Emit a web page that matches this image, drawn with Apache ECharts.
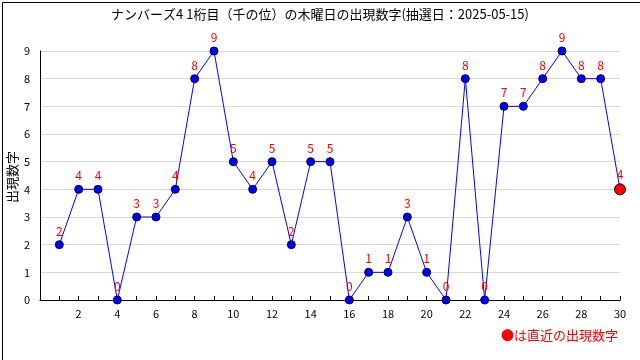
<!DOCTYPE html>
<html><head><meta charset="utf-8">
<script src="https://cdn.jsdelivr.net/npm/echarts@6/dist/echarts.min.js"></script>
<style>html,body{margin:0;padding:0;background:#fff}#c{width:640px;height:360px}</style>
</head><body><div id="c"></div>
<script>
const draws = [1,2,3,4,5,6,7,8,9,10,11,12,13,14,15,16,17,18,19,20,21,22,23,24,25,26,27,28,29,30];
const digits = [2,4,4,0,3,3,4,8,9,5,4,5,2,5,5,0,1,1,3,1,0,8,0,7,7,8,9,8,8,4];
const titleText = 'ナンバーズ4 1桁目（千の位）の木曜日の出現数字(抽選日：2025-05-15)';
const yName = '出現数字';
const legendText = '●は直近の出現数字';
const font = '"Noto Sans CJK JP", "DejaVu Sans", sans-serif';

const data = draws.map((x, i) => {
  const last = i === draws.length - 1;
  return {
    value: [x, digits[i]],
    symbolSize: last ? 11 : 8,
    itemStyle: last ? {color: '#ff0000', borderColor: '#000', borderWidth: 1} : {color: '#0000ff', borderColor: '#000033', borderWidth: 1}
  };
});

const chart = echarts.init(document.getElementById('c'));
chart.setOption({
  animation: false,
  backgroundColor: '#fff',
  title: {text: titleText, left: 'center', top: 3, textStyle: {fontFamily: font, fontSize: 13, fontWeight: 'normal', color: '#000'}},
  grid: {left: 40, right: 20, top: 51, bottom: 60, containLabel: false, outerBoundsMode: 'none'},
  xAxis: {
    type: 'value', min: 0, max: 30, interval: 1,
    axisLine: {lineStyle: {color: '#000', width: 1}},
    axisTick: {inside: true, length: 4, lineStyle: {color: '#000'}},
    axisLabel: {fontFamily: font, fontSize: 11, color: '#000', margin: 8,
      formatter: v => (v > 0 && v % 2 === 0) ? String(v) : ''},
    splitLine: {show: false}
  },
  yAxis: {
    type: 'value', min: 0, max: 9, interval: 1,
    axisLine: {show: true, lineStyle: {color: '#000', width: 1}},
    axisTick: {show: false},
    axisLabel: {fontFamily: font, fontSize: 11, color: '#000', margin: 10},
    splitLine: {lineStyle: {color: '#d8d8d8', width: 1}}
  },
  series: [{
    type: 'line', data: data, symbol: 'circle',
    lineStyle: {color: '#0000ff', width: 1},
    label: {show: true, position: 'top', distance: 3, color: '#ff0000', fontFamily: font, fontSize: 12,
      formatter: p => String(p.value[1])}
  }],
  graphic: [
    {type: 'rect', left: 0, top: 0, shape: {width: 639, height: 359}, style: {fill: 'none', stroke: '#000', lineWidth: 1}, silent: true},
    {type: 'text', x: 12, y: 177, rotation: Math.PI / 2, style: {text: yName, fill: '#000', font: '13px ' + font, align: 'center', verticalAlign: 'middle'}},
    {type: 'text', right: 22, top: 329, style: {text: legendText, fill: '#ff0000', font: '13px ' + font}}
  ]
});
</script></body></html>
